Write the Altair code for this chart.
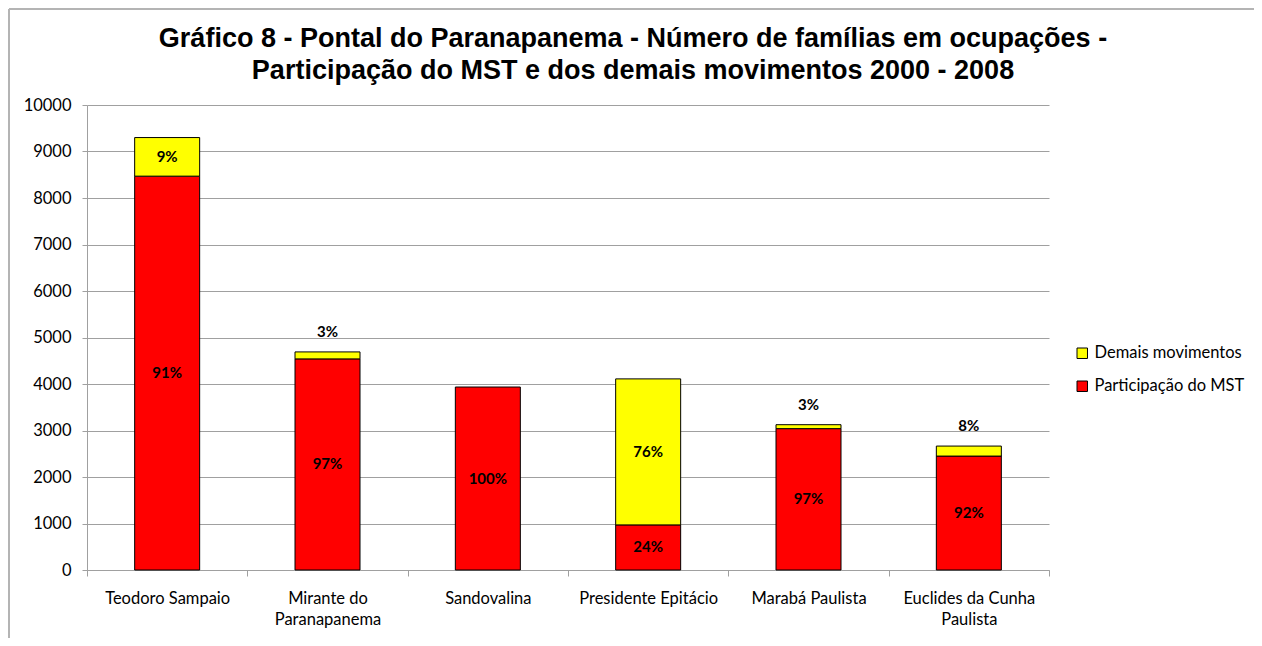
import altair as alt
import pandas as pd

categories = ["Teodoro Sampaio", "Mirante do\nParanapanema", "Sandovalina",
              "Presidente Epitácio", "Marabá Paulista", "Euclides da Cunha\nPaulista"]
mst = [8470, 4540, 3935, 970, 3040, 2450]
demais = [830, 150, 0, 3140, 85, 215]
mst_labels = ["91%", "97%", "100%", "24%", "97%", "92%"]
demais_labels = ["9%", "3%", "", "76%", "3%", "8%"]
series = ["Demais movimentos", "Participação do MST"]
colors = ["#ffff00", "#ff0000"]
title_lines = ["Gráfico 8 - Pontal do Paranapanema - Número de famílias em ocupações -",
               "Participação do MST e dos demais movimentos 2000 - 2008"]

FONT = "Lato"
FS = 16.5

rows = []
for c, m, d in zip(categories, mst, demais):
    rows.append({"cat": c, "serie": series[1], "y0": 0, "y1": m})
    if d > 0:
        rows.append({"cat": c, "serie": series[0], "y0": m, "y1": m + d})
bars_df = pd.DataFrame(rows)

inside, above = [], []
for c, m, d, lm, ld in zip(categories, mst, demais, mst_labels, demais_labels):
    inside.append({"cat": c, "y": m / 2, "t": lm})
    if ld:
        if d >= 400:
            inside.append({"cat": c, "y": m + d / 2, "t": ld})
        else:
            above.append({"cat": c, "y": m + d, "t": ld})
inside_df = pd.DataFrame(inside)
above_df = pd.DataFrame(above)

xenc = alt.X("cat:N", sort=categories, title=None,
             scale=alt.Scale(paddingInner=0, paddingOuter=0),
             axis=alt.Axis(labelAngle=0, labelExpr="split(datum.label, '\\n')",
                           labelFont=FONT, labelFontSize=FS, labelColor="#000000",
                           labelLineHeight=21, labelPadding=14,
                           tickBand="extent", tickSize=6, tickColor="#a0a0a0",
                           domainColor="#a0a0a0", grid=False, labelBaseline="top"))

bars = alt.Chart(bars_df).mark_bar(size=65, stroke="#000000", strokeWidth=1).encode(
    x=xenc,
    y=alt.Y("y0:Q", title=None,
            scale=alt.Scale(domain=[0, 10000], nice=False),
            axis=alt.Axis(values=list(range(0, 10001, 1000)), format="d",
                          labelFont=FONT, labelFontSize=FS, labelColor="#000000",
                          labelPadding=11, tickSize=5, tickColor="#a0a0a0",
                          domainColor="#a0a0a0", gridColor="#a0a0a0", grid=True)),
    y2="y1:Q",
    color=alt.Color("serie:N", scale=alt.Scale(domain=series, range=colors),
                    legend=alt.Legend(title=None, orient="none", legendX=987, legendY=240,
                                      symbolType="square", symbolSize=110,
                                      symbolStrokeColor="#000000", symbolStrokeWidth=1,
                                      labelFont=FONT, labelFontSize=FS, labelColor="#000000",
                                      rowPadding=16, labelOffset=4)),
)

txt_in = alt.Chart(inside_df).mark_text(font=FONT, fontSize=15, fontWeight="bold",
                                        color="#000000", baseline="middle").encode(
    x=alt.X("cat:N", sort=categories), y="y:Q", text="t:N")

txt_above = alt.Chart(above_df).mark_text(font=FONT, fontSize=15, fontWeight="bold",
                                          color="#000000", baseline="middle", dy=-20).encode(
    x=alt.X("cat:N", sort=categories), y="y:Q", text="t:N")

title_df = pd.DataFrame({"t": title_lines, "line": [0, 1]})
title1 = alt.Chart(title_df.iloc[[0]]).mark_text(
    font="Liberation Sans", fontSize=27, fontWeight="bold", color="#000000",
    align="center", baseline="alphabetic").encode(
    x=alt.value(546), y=alt.value(-58), text="t:N")
title2 = alt.Chart(title_df.iloc[[1]]).mark_text(
    font="Liberation Sans", fontSize=27, fontWeight="bold", color="#000000",
    align="center", baseline="alphabetic").encode(
    x=alt.value(546), y=alt.value(-26), text="t:N")

frame_df = pd.DataFrame({"a": [0]})
frame_top = alt.Chart(frame_df).mark_rule(color="#b4b4b4", strokeWidth=2).encode(
    x=alt.value(-78), x2=alt.value(1167), y=alt.value(-96))
frame_left = alt.Chart(frame_df).mark_rule(color="#b4b4b4", strokeWidth=2).encode(
    x=alt.value(-78), y=alt.value(-96), y2=alt.value(533))

chart = alt.layer(bars, txt_in, txt_above, title1, title2, frame_top, frame_left).properties(
    width=962, height=465,
    autosize=alt.AutoSizeParams(type="none"),
    padding={"left": 79, "top": 97, "right": 205, "bottom": 68},
).configure_view(stroke=None)

chart.save("out.html", embed_options={"renderer": "svg", "actions": False})
